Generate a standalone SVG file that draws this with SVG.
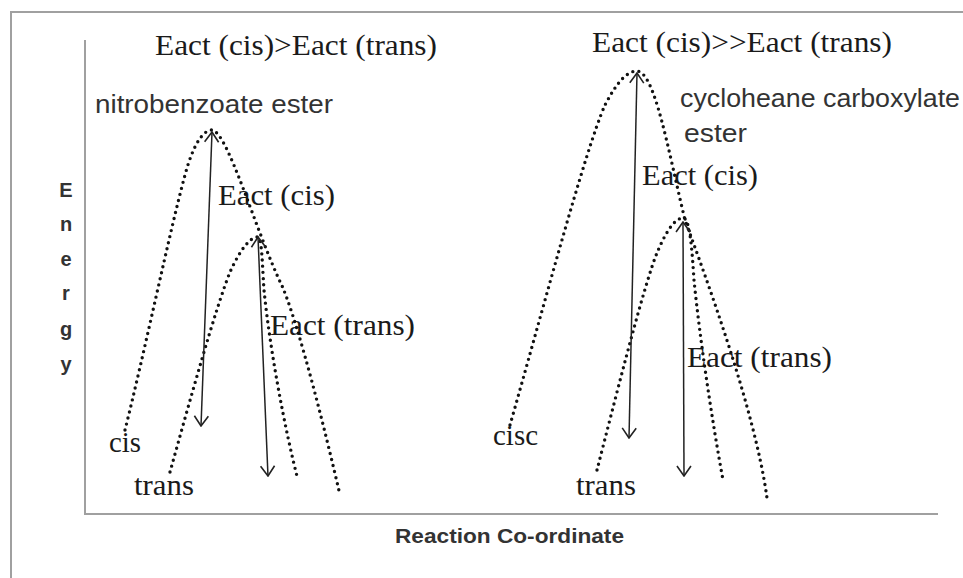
<svg xmlns="http://www.w3.org/2000/svg" width="963" height="578" viewBox="0 0 963 578">
<defs>
<style>
.frame{fill:none;stroke:#a0a0a0;stroke-width:2}
.curve{fill:none;stroke:#111;stroke-width:3.4;stroke-dasharray:0 6.2;stroke-linecap:round}
.arrow{fill:none;stroke:#222;stroke-width:1.5}
.serif{font-family:"Liberation Serif","Times New Roman",serif;font-size:30px;fill:#1a1a1a}
.sans{font-family:"Liberation Sans",Arial,sans-serif;font-size:25px;fill:#333}
.bold{font-family:"Liberation Sans",Arial,sans-serif;font-size:20px;font-weight:bold;fill:#333}
</style>
<marker id="head" viewBox="0 0 12 20" refX="11" refY="10" markerWidth="12" markerHeight="20" markerUnits="userSpaceOnUse" orient="auto-start-reverse">
<path d="M1,3 L11,10 L1,17" fill="none" stroke="#222" stroke-width="1.6"/>
</marker>
</defs>
<rect width="963" height="578" fill="#fff"/>
<g id="frame">
<path class="frame" d="M11,590 L11,12 L970,12"/>
<path class="frame" d="M85,40 L85,514 L938,514"/>
</g>
<g id="axis-labels">
<text class="bold" x="66" y="197" text-anchor="middle">E</text>
<text class="bold" x="66" y="231" text-anchor="middle">n</text>
<text class="bold" x="66" y="266" text-anchor="middle">e</text>
<text class="bold" x="66" y="300" text-anchor="middle">r</text>
<text class="bold" x="66" y="336" text-anchor="middle">g</text>
<text class="bold" x="66" y="371" text-anchor="middle">y</text>
<text class="bold" x="395" y="543" textLength="229" lengthAdjust="spacingAndGlyphs">Reaction Co-ordinate</text>
</g>
<g id="left-diagram">
<text class="serif" x="155" y="55" textLength="282" lengthAdjust="spacingAndGlyphs">Eact (cis)&gt;Eact (trans)</text>
<text class="sans" x="95" y="113" textLength="238" lengthAdjust="spacingAndGlyphs">nitrobenzoate ester</text>
<text class="serif" x="218" y="205" textLength="117" lengthAdjust="spacingAndGlyphs">Eact (cis)</text>
<text class="serif" x="270" y="335" textLength="145" lengthAdjust="spacingAndGlyphs">Eact (trans)</text>
<text class="serif" x="109" y="452" textLength="32" lengthAdjust="spacingAndGlyphs">cis</text>
<text class="serif" x="134" y="495" textLength="60" lengthAdjust="spacingAndGlyphs">trans</text>
</g>
<g id="right-diagram">
<text class="serif" x="592" y="52" textLength="300" lengthAdjust="spacingAndGlyphs">Eact (cis)&gt;&gt;Eact (trans)</text>
<text class="sans" x="680" y="107" textLength="280" lengthAdjust="spacingAndGlyphs">cycloheane carboxylate</text>
<text class="sans" x="684" y="142" textLength="63" lengthAdjust="spacingAndGlyphs">ester</text>
<text class="serif" x="642" y="185" textLength="116" lengthAdjust="spacingAndGlyphs">Eact (cis)</text>
<text class="serif" x="687" y="367" textLength="145" lengthAdjust="spacingAndGlyphs">Eact (trans)</text>
<text class="serif" x="493" y="445" textLength="45" lengthAdjust="spacingAndGlyphs">cisc</text>
<text class="serif" x="576" y="495" textLength="60" lengthAdjust="spacingAndGlyphs">trans</text>
</g>
<g id="connectors">
<path class="curve" d="M125,430 C145,350 170,230 185,175 C193,145 203,130 212,130 C228,132 255,230 283,288 C300,330 325,430 340,495"/>
<path class="curve" d="M170,472 C190,400 215,310 230,272 C240,250 250,237 258,237 C262,240 262,260 264,290 C270,350 285,430 298,480"/>
<path class="curve" d="M510,425 C540,320 585,150 605,105 C618,80 628,71 637,71 C655,72 668,150 685,220 C705,275 755,410 767,498"/>
<path class="curve" d="M597,470 C615,400 640,300 655,258 C665,232 675,218 683,218 C690,218 692,250 694,280 C700,340 712,420 723,480"/>
<line class="arrow" x1="212" y1="132" x2="201" y2="426" marker-start="url(#head)" marker-end="url(#head)"/>
<line class="arrow" x1="258" y1="237" x2="268" y2="476" marker-start="url(#head)" marker-end="url(#head)"/>
<line class="arrow" x1="637" y1="73" x2="629" y2="438" marker-start="url(#head)" marker-end="url(#head)"/>
<line class="arrow" x1="683" y1="222" x2="684" y2="476" marker-start="url(#head)" marker-end="url(#head)"/>
</g>
</svg>
